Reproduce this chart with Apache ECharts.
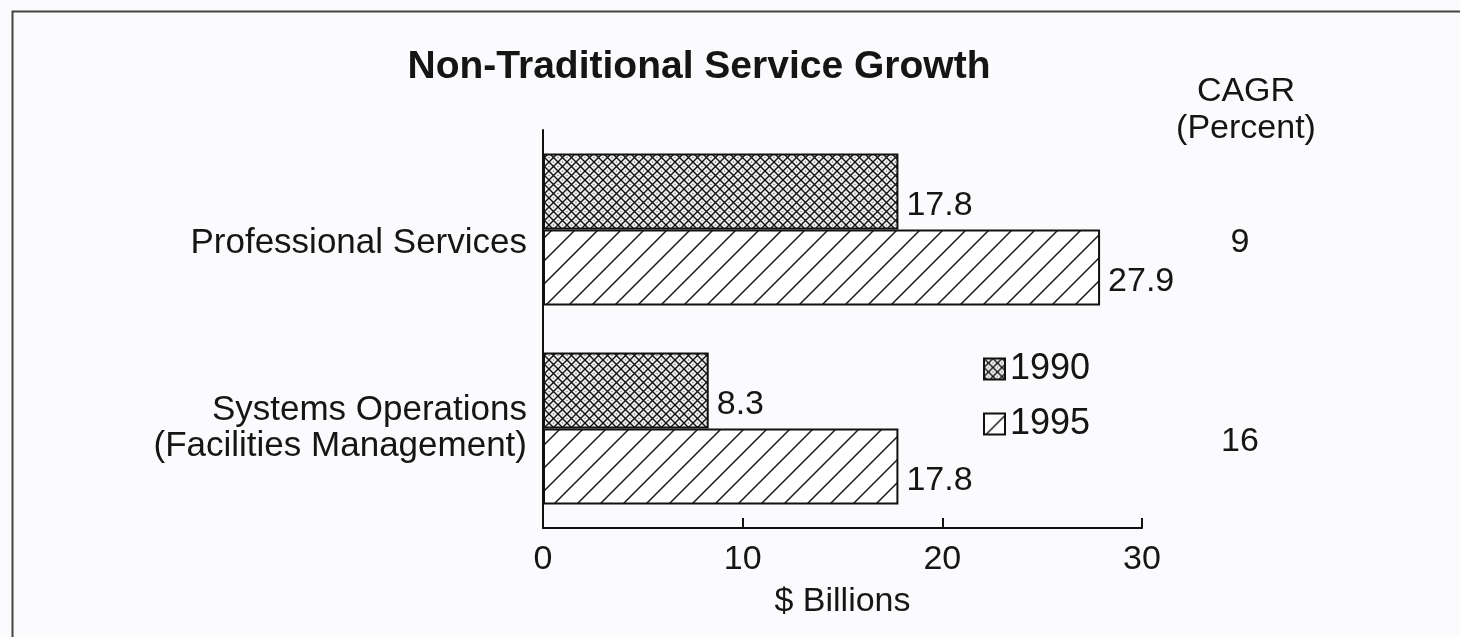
<!DOCTYPE html>
<html>
<head>
<meta charset="utf-8">
<script src="https://cdn.jsdelivr.net/npm/echarts@6/dist/echarts.min.js"></script>
<style>
html,body{margin:0;padding:0;background:#fbfafc;}
#c{width:1460px;height:637px;}
</style>
</head>
<body>
<div id="c"></div>
<script>
const categories = ['Professional Services', 'Systems Operations\n(Facilities Management)'];
const values1990 = [17.8, 8.3];
const values1995 = [27.9, 17.8];
const cagrValues = ['9', '16'];
const seriesNames = ['1990', '1995'];

function crossPattern() {
  const s = 9;
  const c = document.createElement('canvas');
  c.width = s; c.height = s;
  const g = c.getContext('2d');
  g.fillStyle = '#eeeeee';
  g.fillRect(0, 0, s, s);
  g.fillStyle = '#777';
  [[4.5,0],[0,4.5],[9,4.5],[4.5,9]].forEach(function(p){ g.fillRect(p[0]-0.6,p[1]-0.6,1.2,1.2); });
  g.strokeStyle = '#111';
  g.lineWidth = 1.4;
  g.beginPath();
  g.moveTo(0, 0); g.lineTo(s, s);
  g.moveTo(s, 0); g.lineTo(0, s);
  g.stroke();
  return c;
}
function hatchPattern() {
  const s = 23;
  const c = document.createElement('canvas');
  c.width = s; c.height = s;
  const g = c.getContext('2d');
  g.fillStyle = '#ffffff';
  g.fillRect(0, 0, s, s);
  g.strokeStyle = '#1a1a1a';
  g.lineWidth = 1.5;
  g.beginPath();
  g.moveTo(-2, s + 2); g.lineTo(s + 2, -2);
  g.moveTo(-2, 2); g.lineTo(2, -2);
  g.moveTo(s - 2, s + 2); g.lineTo(s + 2, s - 2);
  g.stroke();
  return c;
}

const FONT = 'Liberation Sans';
const TXT = '#151515';
const FS = 34;
const chart = echarts.init(document.getElementById('c'));

const labelStyle = {
  show: true, position: 'right', distance: 8, offset: [0, 14],
  fontFamily: FONT, fontSize: FS, color: TXT
};

chart.setOption({
  backgroundColor: '#fbfafc',
  animation: false,
  title: [{
    text: 'Non-Traditional Service Growth',
    left: 694, top: 43, textAlign: 'center',
    textStyle: { fontFamily: FONT, fontSize: 39, fontWeight: 'bold', color: TXT }
  }, {
    text: 'CAGR\n(Percent)',
    left: 1241, top: 68, textAlign: 'center',
    textStyle: { fontFamily: FONT, fontSize: FS, fontWeight: 'normal', color: TXT, lineHeight: 37, align: 'center' }
  }],
  graphic: [{
    type: 'rect', left: 10, top: 9,
    shape: { width: 1500, height: 700 },
    style: { fill: 'none', stroke: '#444', lineWidth: 2 }
  }],
  legend: {
    orient: 'vertical', left: 978, top: 346,
    icon: 'rect',
    itemWidth: 21, itemHeight: 21, itemGap: 19,
    textStyle: { fontFamily: FONT, fontSize: 36, color: TXT },
    data: seriesNames
  },
  grid: { left: 543, right: 318, top: 130, bottom: 109, containLabel: false },
  xAxis: {
    type: 'value', min: 0, max: 30, interval: 10,
    axisLine: { show: true, lineStyle: { color: '#111', width: 2 } },
    axisTick: { show: true, inside: true, length: 10, lineStyle: { color: '#111', width: 2 } },
    splitLine: { show: false },
    axisLabel: { fontFamily: FONT, fontSize: FS, color: TXT, margin: 15 },
    name: '$ Billions', nameLocation: 'middle', nameGap: 57,
    nameTextStyle: { fontFamily: FONT, fontSize: FS, color: TXT, verticalAlign: 'top' }
  },
  yAxis: [{
    type: 'category', inverse: true, data: categories,
    axisLine: { show: true, onZero: false, lineStyle: { color: '#111', width: 2 } },
    axisTick: { show: false },
    axisLabel: {
      fontFamily: FONT, fontSize: 35, color: TXT, margin: 16, lineHeight: 36, align: 'right',
      formatter: function (v, i) { return i === 0 ? '{p|' + v + '}' : v; },
      rich: { p: { fontFamily: FONT, fontSize: 35, color: TXT, padding: [28, 0, 0, 0] } }
    }
  }, {
    type: 'category', inverse: true, data: cagrValues, position: 'right',
    axisLine: { show: false }, axisTick: { show: false },
    axisLabel: {
      fontFamily: FONT, fontSize: FS, color: TXT, margin: 98, align: 'center',
      formatter: function (v) { return '{c|' + v + '}'; },
      rich: { c: { fontFamily: FONT, fontSize: FS, color: TXT, padding: [26, 0, 0, 0] } }
    }
  }],
  series: [{
    name: seriesNames[0], type: 'bar', data: values1990, yAxisIndex: 0,
    barWidth: 76, barGap: '0%',
    itemStyle: { color: { image: crossPattern(), repeat: 'repeat' }, borderColor: '#111', borderWidth: 2 },
    label: labelStyle
  }, {
    name: seriesNames[1], type: 'bar', data: values1995, yAxisIndex: 0,
    barWidth: 76, barGap: '0%',
    itemStyle: { color: { image: hatchPattern(), repeat: 'repeat' }, borderColor: '#111', borderWidth: 2 },
    label: labelStyle
  }]
});
</script>
</body>
</html>
